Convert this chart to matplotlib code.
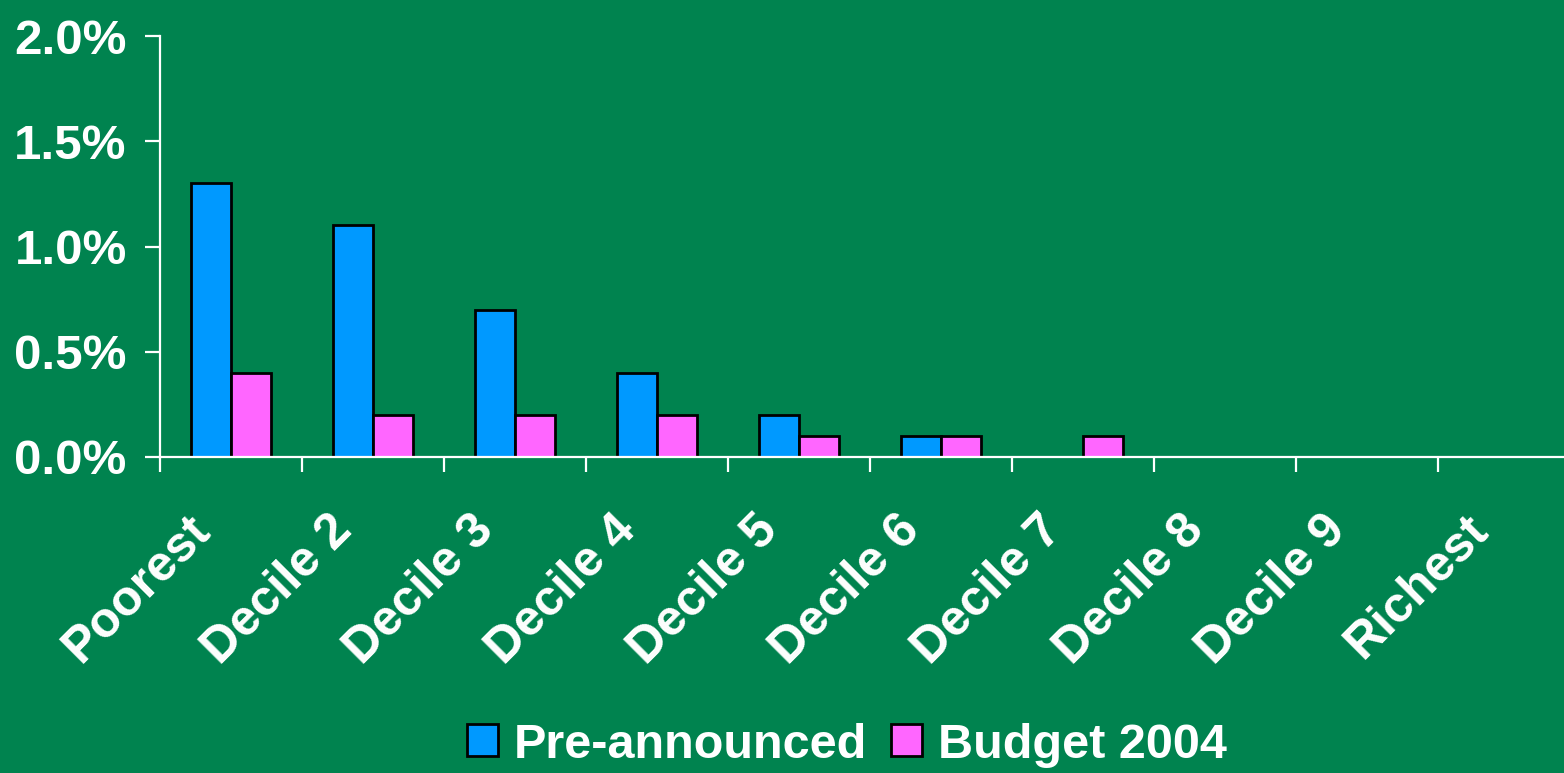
import numpy as np
import matplotlib.pyplot as plt
from matplotlib.transforms import ScaledTranslation
from matplotlib.ticker import FuncFormatter

# Income groups and change in net income (% of income)
groups = ['Poorest', 'Decile 2', 'Decile 3', 'Decile 4', 'Decile 5',
          'Decile 6', 'Decile 7', 'Decile 8', 'Decile 9', 'Richest']
pre_announced = [1.3, 1.1, 0.7, 0.4, 0.2, 0.1, 0.0, 0.0, 0.0, 0.0]
budget_2004 = [0.4, 0.2, 0.2, 0.2, 0.1, 0.1, 0.1, 0.0, 0.0, 0.0]

bg = '#00834F'
plt.rcParams['font.family'] = ['Liberation Sans', 'DejaVu Sans']
plt.rcParams['font.weight'] = 'bold'

fig = plt.figure(figsize=(15.64, 7.73), dpi=100, facecolor=bg)
ax = fig.add_axes([0.1023, 0.4088, 0.9079, 0.5446], facecolor=bg)

x = np.arange(len(groups)) + 0.5
w = 0.282
ax.bar(x - w / 2, pre_announced, w, color='#0099FF', edgecolor='black',
       linewidth=2.0, label='Pre-announced')
ax.bar(x + w / 2, budget_2004, w, color='#FF66FF', edgecolor='black',
       linewidth=2.0, label='Budget 2004')

ax.set_xlim(0, len(groups))
ax.set_ylim(0, 2.0)

for side in ['top', 'right']:
    ax.spines[side].set_visible(False)
for side in ['left', 'bottom']:
    ax.spines[side].set_color('white')
    ax.spines[side].set_linewidth(1.6)

ax.set_yticks([0, 0.5, 1.0, 1.5, 2.0])
ax.yaxis.set_major_formatter(FuncFormatter(lambda v, p: f'{v:.1f}%'))
ax.tick_params(axis='y', colors='white', length=11, width=1.6, pad=13,
               labelsize=35.5)

# category boundaries get the ticks, category centres get the labels
ax.set_xticks(np.arange(len(groups) + 1))
ax.set_xticklabels([])
ax.set_xticks(x, minor=True)
ax.set_xticklabels(groups, minor=True, rotation=45, ha='right')
ax.tick_params(axis='x', which='major', colors='white', length=11, width=1.6)
ax.tick_params(axis='x', which='minor', colors='white', length=0, pad=36,
               labelsize=36)
shift = ScaledTranslation(-0.12, 0, fig.dpi_scale_trans)
for lbl in ax.get_xticklabels(minor=True):
    lbl.set_transform(lbl.get_transform() + shift)

leg = fig.legend(loc='center', bbox_to_anchor=(847 / 1564, 1 - 745 / 773),
                 ncol=2, frameon=False, fontsize=35, handlelength=0.64,
                 handleheight=0.64, handletextpad=0.33, columnspacing=0.5)
for t in leg.get_texts():
    t.set_color('white')

fig.savefig('out.png', dpi=100, facecolor=bg)
